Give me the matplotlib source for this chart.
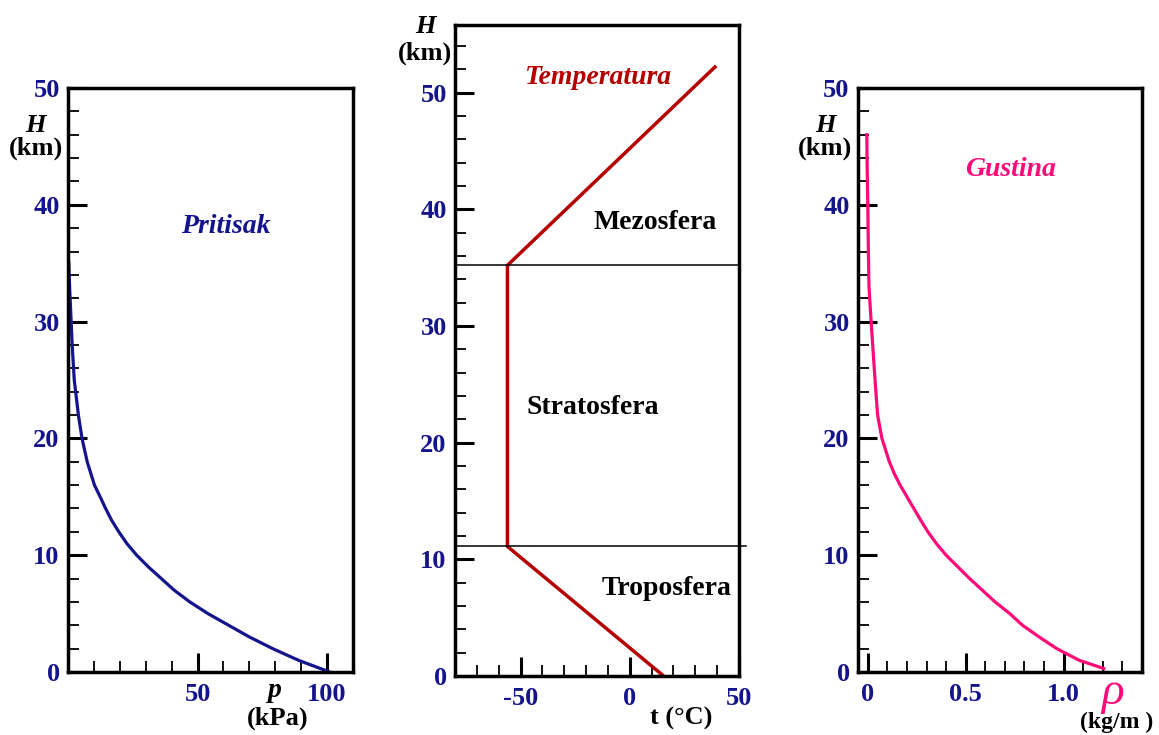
import numpy as np
import matplotlib
matplotlib.use('Agg')
import matplotlib.pyplot as plt
from matplotlib.ticker import MultipleLocator

plt.rcParams['font.family'] = ['Liberation Serif', 'DejaVu Serif']
plt.rcParams['font.weight'] = 'bold'
plt.rcParams['axes.unicode_minus'] = False

# pressure (kPa) vs height (km)
h_p = [0, 1, 2, 3, 4, 5, 6, 7, 8, 9, 10, 11, 12, 13, 14, 15, 16, 18, 20,
       22, 25, 28, 30, 33, 35]
p_kpa = [101, 89, 79, 70, 62, 54, 47, 41, 36, 31, 26.5, 22.7, 19.6, 16.8,
         14.5, 12.4, 10.2, 7.4, 5.4, 4.0, 2.4, 1.6, 1.2, 0.6, 0.3]

# temperature (C) vs height (km)
h_t = [0, 11.1, 35.2, 52.2]
t_c = [15.5, -56, -56, 39]
layer_h = [11.1, 35.2]

# density (kg/m3) vs height (km)
h_rho = [0.3, 1, 2, 3, 4, 5, 6, 7, 8, 9, 10, 11, 12, 13, 14, 15, 16, 17,
         18, 20, 22, 25, 28, 30, 33, 36, 40, 43, 46]
rho = [1.205, 1.08, 0.965, 0.875, 0.79, 0.725, 0.65, 0.585, 0.52, 0.46,
       0.40, 0.35, 0.307, 0.27, 0.235, 0.20, 0.165, 0.135, 0.11, 0.072,
       0.05, 0.037, 0.025, 0.017, 0.006, 0.003, 0.0, -0.003, -0.005]

navy = '#14148c'
dred = '#b40000'
pink = '#ff0a78'
fs = 20
tfs = 19

fig = plt.figure(figsize=(11.59, 7.35), dpi=100)


def style(ax, xmaj, xmin, ymaj, ymin):
    ax.xaxis.set_major_locator(xmaj)
    ax.xaxis.set_minor_locator(xmin)
    ax.yaxis.set_major_locator(ymaj)
    ax.yaxis.set_minor_locator(ymin)
    ax.tick_params(which='major', direction='in', length=14, width=2.2,
                   labelsize=tfs, labelcolor=navy, pad=6)
    ax.tick_params(which='minor', direction='in', length=8, width=1.3)
    ax.tick_params(top=False, right=False)
    for s in ax.spines.values():
        s.set_linewidth(2.5)
    for lab in ax.get_xticklabels() + ax.get_yticklabels():
        lab.set_fontweight('bold')


# Pritisak
ax1 = fig.add_axes([0.0587, 0.0857, 0.2459, 0.7946])
ax1.plot(p_kpa, h_p, color=navy, lw=2.3)
ax1.set_xlim(0, 110)
ax1.set_ylim(0, 50)
style(ax1, MultipleLocator(50), MultipleLocator(10),
      MultipleLocator(10), MultipleLocator(2))
ax1.set_xticks([50, 100])
ax1.set_xticklabels(['50', '100'], fontweight='bold')
ax1.tick_params(axis='x', pad=8)
ax1.text(61, 38.1, 'Pritisak', color=navy, fontsize=fs, style='italic',
         ha='center', va='center')
ax1.text(-12.4, 46.8, 'H', fontsize=fs - 1, style='italic', ha='center',
         va='center', clip_on=False)
ax1.text(-12.4, 44.8, '(km)', fontsize=fs - 1, ha='center', va='center',
         clip_on=False)
ax1.text(80, -1.6, 'p', fontsize=fs, style='italic', ha='center',
         va='center', clip_on=False)
ax1.text(81, -4.0, '(kPa)', fontsize=fs - 1, ha='center', va='center',
         clip_on=False)

# Temperatura
ax2 = fig.add_axes([0.3926, 0.0803, 0.2450, 0.8857])
ax2.plot(t_c, h_t, color=dred, lw=2.5)
ax2.set_xlim(-80, 50)
ax2.set_ylim(0, 55.8)
style(ax2, MultipleLocator(50), MultipleLocator(10),
      MultipleLocator(10), MultipleLocator(2))
ax2.set_yticks([0, 10, 20, 30, 40, 50])
ax2.tick_params(axis='x', pad=8)
ax2.plot([-80, 50], [layer_h[1], layer_h[1]], color='black', lw=1.1)
ax2.plot([-80, 53], [layer_h[0], layer_h[0]], color='black', lw=1.1,
         clip_on=False)
ax2.text(-14.5, 51.3, 'Temperatura', color=dred, fontsize=fs,
         style='italic', ha='center', va='center')
ax2.text(11.5, 38.9, 'Mezosfera', fontsize=fs, ha='center', va='center')
ax2.text(-17, 23, 'Stratosfera', fontsize=fs, ha='center', va='center')
ax2.text(17, 7.5, 'Troposfera', fontsize=fs, ha='center', va='center')
ax2.text(-93.7, 55.7, 'H', fontsize=fs - 1, style='italic', ha='center',
         va='center', clip_on=False)
ax2.text(-93.7, 53.4, '(km)', fontsize=fs - 1, ha='center', va='center',
         clip_on=False)
ax2.text(23.5, -3.6, 't (°C)', fontsize=fs - 1, ha='center', va='center',
         clip_on=False)

# Gustina
ax3 = fig.add_axes([0.7403, 0.0857, 0.2450, 0.7946])
ax3.plot(rho, h_rho, color=pink, lw=2.3)
ax3.set_xlim(-0.05, 1.4)
ax3.set_ylim(0, 50)
style(ax3, MultipleLocator(0.5), MultipleLocator(0.1),
      MultipleLocator(10), MultipleLocator(2))
ax3.set_xticks([0, 0.5, 1.0])
ax3.set_xticklabels(['0', '0.5', '1.0'], fontweight='bold')
ax3.tick_params(axis='x', pad=8)
ax3.text(0.73, 43, 'Gustina', color=pink, fontsize=fs, style='italic',
         ha='center', va='center')
ax3.text(-0.218, 46.8, 'H', fontsize=fs - 1, style='italic', ha='center',
         va='center', clip_on=False)
ax3.text(-0.218, 44.8, '(km)', fontsize=fs - 1, ha='center', va='center',
         clip_on=False)
ax3.text(1.25, -1.8, 'ρ', color=pink, fontsize=34, style='italic',
         fontweight='normal', ha='center', va='center', clip_on=False)
ax3.text(1.27, -4.3, '(kg/m )', fontsize=fs - 3, ha='center', va='center',
         clip_on=False)

fig.savefig('out.png', dpi=100)
